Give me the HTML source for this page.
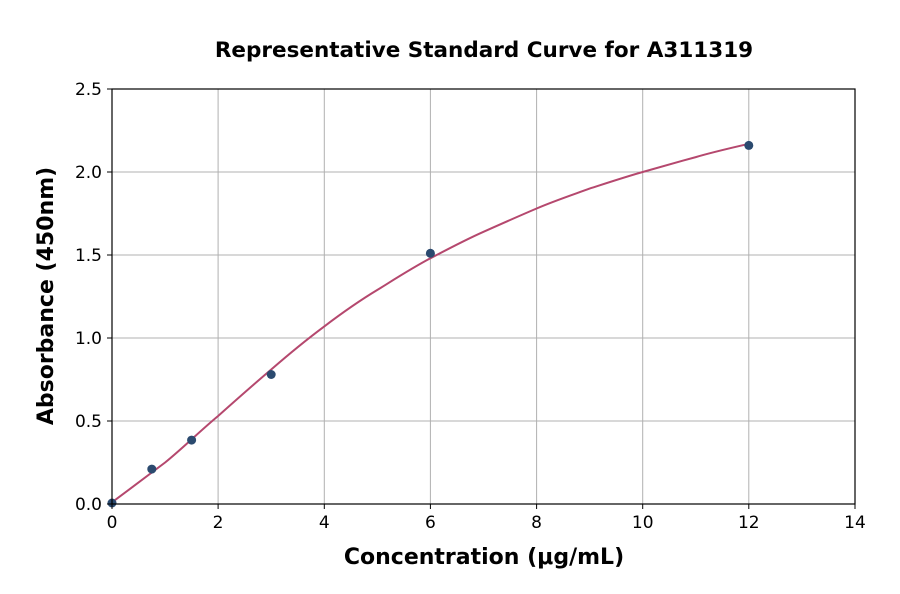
<!DOCTYPE html>
<html><head><meta charset="utf-8"><style>body{margin:0;background:#fff}svg{display:block}</style></head><body>
<svg width="900" height="594" xmlns="http://www.w3.org/2000/svg" font-family="'DejaVu Sans','Liberation Sans',sans-serif">
<rect width="900" height="594" fill="#fff"/>
<g stroke="#b0b0b0" stroke-width="1">
<line x1="218.1" y1="89" x2="218.1" y2="504"/><line x1="324.3" y1="89" x2="324.3" y2="504"/><line x1="430.4" y1="89" x2="430.4" y2="504"/><line x1="536.6" y1="89" x2="536.6" y2="504"/><line x1="642.7" y1="89" x2="642.7" y2="504"/><line x1="748.8" y1="89" x2="748.8" y2="504"/>
<line x1="112" y1="421" x2="855" y2="421"/><line x1="112" y1="338" x2="855" y2="338"/><line x1="112" y1="255" x2="855" y2="255"/><line x1="112" y1="172" x2="855" y2="172"/>
</g>
<path d="M112,502.3 C130,489 147,476 165.1,462.5 C183,448 200,431 218.1,416 C236,400 253,385 271.2,369.5 C289,354 306,340 324.3,326.4 C342,313 359,301 377.4,289.9 C395,279 412,268 430.4,258.3 C448,249 465,240 483.5,231.8 C501,224 519,216 536.6,208.5 C554,201 572,195 589.6,188.6 C607,183 625,177 642.7,172 C660,167 678,162 695.8,157.1 C713,152 731,148 748.8,143.8" fill="none" stroke="#b5486e" stroke-width="2"/>
<g fill="#2b4a6f">
<circle cx="112" cy="503" r="4.5"/><circle cx="151.8" cy="469.1" r="4.5"/><circle cx="191.6" cy="440.1" r="4.5"/><circle cx="271.2" cy="374.5" r="4.5"/><circle cx="430.4" cy="253.3" r="4.5"/><circle cx="748.8" cy="145.4" r="4.5"/>
</g>
<rect x="112" y="89" width="743" height="415" fill="none" stroke="#000" stroke-width="1.2"/>
<g stroke="#000" stroke-width="1">
<line x1="112" y1="504" x2="112" y2="509"/><line x1="218.1" y1="504" x2="218.1" y2="509"/><line x1="324.3" y1="504" x2="324.3" y2="509"/><line x1="430.4" y1="504" x2="430.4" y2="509"/><line x1="536.6" y1="504" x2="536.6" y2="509"/><line x1="642.7" y1="504" x2="642.7" y2="509"/><line x1="748.8" y1="504" x2="748.8" y2="509"/><line x1="855" y1="504" x2="855" y2="509"/>
<line x1="107" y1="504" x2="112" y2="504"/><line x1="107" y1="421" x2="112" y2="421"/><line x1="107" y1="338" x2="112" y2="338"/><line x1="107" y1="255" x2="112" y2="255"/><line x1="107" y1="172" x2="112" y2="172"/><line x1="107" y1="89" x2="112" y2="89"/>
</g>
<g font-size="17" text-anchor="middle" fill="#000">
<text x="112" y="528">0</text><text x="218.1" y="528">2</text><text x="324.3" y="528">4</text><text x="430.4" y="528">6</text><text x="536.6" y="528">8</text><text x="642.7" y="528">10</text><text x="748.8" y="528">12</text><text x="855" y="528">14</text>
</g>
<g font-size="17" text-anchor="end" fill="#000">
<text x="102" y="510">0.0</text><text x="102" y="427">0.5</text><text x="102" y="344">1.0</text><text x="102" y="261">1.5</text><text x="102" y="178">2.0</text><text x="102" y="95">2.5</text>
</g>
<text x="484" y="57" font-size="21.5" font-weight="bold" text-anchor="middle">Representative Standard Curve for A311319</text>
<text x="484" y="564" font-size="22" font-weight="bold" text-anchor="middle">Concentration (μg/mL)</text>
<text transform="translate(53,296) rotate(-90)" font-size="22" font-weight="bold" text-anchor="middle">Absorbance (450nm)</text>
</svg>
</body></html>
